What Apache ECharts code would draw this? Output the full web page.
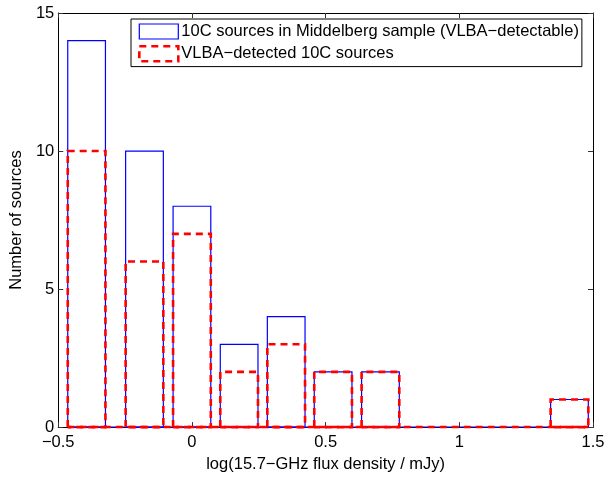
<!DOCTYPE html>
<html><head><meta charset="utf-8">
<script src="https://cdn.jsdelivr.net/npm/echarts@6/dist/echarts.min.js"></script>
<style>html,body{margin:0;padding:0;background:#fff}#c{width:613px;height:478px}</style>
</head><body><div id="c"></div>
<script>
// bin centres (log flux density) and counts
const binCenters = [-0.394, -0.1775, 0.0, 0.1765, 0.3525, 0.528, 0.705, 1.412];
const allCounts = [14, 10, 8, 3, 4, 2, 2, 1];
const detectedCounts = [10, 6, 7, 2, 3, 2, 2, 1];
const barWidth = 0.141;
const xTicks = [-0.5, 0, 0.5, 1, 1.5];
const yTicks = [0, 5, 10, 15];
const seriesNames = ['10C sources in Middelberg sample (VLBA\u2212detectable)', 'VLBA\u2212detected 10C sources'];

const FONT = 'Liberation Sans, Arial, Helvetica, sans-serif';
const FS = 16.5;
const blueStyle = {stroke: '#0000ff', lineWidth: 1.2, fill: null};
const redStyle = {stroke: '#ff0000', lineWidth: 2.6, fill: null, lineDash: [7, 5]};

function makeRender(style) {
  return function (params, api) {
    const c = api.value(0), v = api.value(1);
    const p1 = api.coord([c - barWidth / 2, 0]);
    const p2 = api.coord([c - barWidth / 2, v]);
    const p3 = api.coord([c + barWidth / 2, v]);
    const p4 = api.coord([c + barWidth / 2, 0]);
    return {type: 'polyline', shape: {points: [p1, p2, p3, p4, p1]}, style: style};
  };
}
function pairs(vals) { return binCenters.map((c, i) => [c, vals[i]]); }
const baseStart = Math.min(...binCenters) - barWidth / 2;
const baseEnd = Math.max(...binCenters) + barWidth / 2;
const fmt = v => String(v).replace('-', '\u2212');

const axisCommon = {
  axisLine: {show: true, onZero: false, lineStyle: {color: '#000', width: 1}},
  axisTick: {show: true, inside: true, length: 5, lineStyle: {color: '#333'}},
  splitLine: {show: false}
};

const chart = echarts.init(document.getElementById('c'), null, {renderer: 'canvas'});
chart.setOption({
  animation: false,
  backgroundColor: '#fff',
  grid: {left: 57, right: 20, top: 13, bottom: 42, containLabel: false},
  xAxis: [
    Object.assign({type: 'value', min: -0.5, max: 1.5, interval: 0.5, position: 'bottom',
      name: 'log(15.7\u2212GHz flux density / mJy)', nameLocation: 'middle', nameGap: 27,
      nameTextStyle: {fontFamily: FONT, fontSize: FS, color: '#000'},
      axisLabel: {fontFamily: FONT, fontSize: FS, color: '#000', margin: 7,
        formatter: v => xTicks.includes(v) ? fmt(v) : ''}}, axisCommon),
    Object.assign({type: 'value', min: -0.5, max: 1.5, interval: 0.5, position: 'top',
      axisLabel: {show: false}}, axisCommon)
  ],
  yAxis: [
    Object.assign({type: 'value', min: 0, max: 15, interval: 5, position: 'left',
      name: 'Number of sources', nameLocation: 'middle', nameGap: 32,
      nameTextStyle: {fontFamily: FONT, fontSize: FS, color: '#000'},
      axisLabel: {fontFamily: FONT, fontSize: FS, color: '#000', margin: 4,
        formatter: v => yTicks.includes(v) ? fmt(v) : ''}}, axisCommon),
    Object.assign({type: 'value', min: 0, max: 15, interval: 5, position: 'right',
      axisLabel: {show: false}}, axisCommon)
  ],
  legend: {
    orient: 'vertical', left: 131, top: 19, padding: [4, 3, 4, 7], itemGap: 5,
    itemWidth: 39, itemHeight: 15, borderColor: '#000', borderWidth: 1,
    backgroundColor: '#fff', selectedMode: false,
    textStyle: {fontFamily: FONT, fontSize: FS, color: '#000', padding: [0, 0, 0, -2]},
    data: [
      {name: seriesNames[0], icon: 'rect', itemStyle: {color: 'transparent', borderColor: '#0000ff', borderWidth: 1.2}},
      {name: seriesNames[1], icon: 'rect', itemStyle: {color: 'transparent', borderColor: '#ff0000', borderWidth: 2.6, borderType: [7, 5]}}
    ]
  },
  series: [
    {type: 'line', data: [[baseStart, 0], [baseEnd, 0]], symbol: 'none', silent: true,
      lineStyle: {color: '#0000ff', width: 1.2}, z: 2},
    {name: seriesNames[0], type: 'custom', renderItem: makeRender(blueStyle), data: pairs(allCounts),
      encode: {x: 0, y: 1}, z: 3, itemStyle: {color: 'transparent', borderColor: '#0000ff'}},
    {type: 'line', data: [[baseStart, 0], [baseEnd, 0]], symbol: 'none', silent: true,
      lineStyle: {color: '#ff0000', width: 2.6, type: [7, 5]}, z: 4},
    {name: seriesNames[1], type: 'custom', renderItem: makeRender(redStyle), data: pairs(detectedCounts),
      encode: {x: 0, y: 1}, z: 5, itemStyle: {color: 'transparent', borderColor: '#ff0000'}}
  ]
});
</script></body></html>
